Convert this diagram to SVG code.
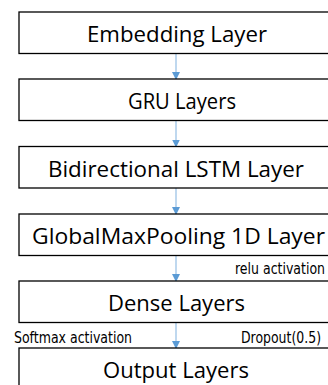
<svg xmlns="http://www.w3.org/2000/svg" width="328" height="385" viewBox="0 0 328 385">
<style>
.box{fill:#fff;stroke:#000;stroke-width:1.3}
.t{font-family:"Open Sans","Noto Sans",sans-serif;font-size:21px;fill:#000;text-anchor:middle}
.s{font-family:"DejaVu Sans Condensed","DejaVu Sans",sans-serif;font-stretch:condensed;font-size:15px;fill:#000}
.c{stroke:#9DC3E6;stroke-width:1.3;fill:none}
</style>
<defs>
<marker id="ah" markerWidth="8" markerHeight="8" refX="7" refY="4" orient="auto" markerUnits="userSpaceOnUse">
<path d="M0,0 L8,4 L0,8 z" fill="#5B9BD5"/>
</marker>
</defs>
<rect width="328" height="385" fill="#fff"/>
<g id="connectors">
<line class="c" x1="176" y1="53.5" x2="176" y2="79" marker-end="url(#ah)"/>
<line class="c" x1="176" y1="120.5" x2="176" y2="146.5" marker-end="url(#ah)"/>
<line class="c" x1="176" y1="188" x2="176" y2="214" marker-end="url(#ah)"/>
<line class="c" x1="176" y1="255.5" x2="176" y2="281" marker-end="url(#ah)"/>
<line class="c" x1="176" y1="322.5" x2="176" y2="348" marker-end="url(#ah)"/>
</g>
<g id="embedding"><rect class="box" x="19" y="12" width="315" height="41.5"/><text class="t" x="177" y="41.5" textLength="180" lengthAdjust="spacingAndGlyphs">Embedding Layer</text></g>
<g id="gru"><rect class="box" x="19" y="79" width="315" height="41.5"/><text class="t" x="182" y="109" textLength="108" lengthAdjust="spacingAndGlyphs">GRU Layers</text></g>
<g id="bilstm"><rect class="box" x="19" y="146.5" width="315" height="41.5"/><text class="t" x="176" y="176.5" textLength="256" lengthAdjust="spacingAndGlyphs">Bidirectional LSTM Layer</text></g>
<g id="gmp"><rect class="box" x="19" y="214" width="315" height="41.5"/><text class="t" x="178.5" y="243.5" textLength="293" lengthAdjust="spacingAndGlyphs">GlobalMaxPooling 1D Layer</text></g>
<g id="dense"><rect class="box" x="19" y="281" width="315" height="41.5"/><text class="t" x="176.5" y="311" textLength="137" lengthAdjust="spacingAndGlyphs">Dense Layers</text></g>
<g id="output"><rect class="box" x="19" y="348" width="315" height="41.5"/><text class="t" x="176" y="378" textLength="146" lengthAdjust="spacingAndGlyphs">Output Layers</text></g>
<g id="labels">
<text class="s" x="235" y="274" textLength="90" lengthAdjust="spacingAndGlyphs">relu activation</text>
<text class="s" x="14" y="342.5" textLength="118" lengthAdjust="spacingAndGlyphs">Softmax activation</text>
<text class="s" x="241" y="342.5" textLength="80" lengthAdjust="spacingAndGlyphs">Dropout(0.5)</text>
</g>
</svg>
